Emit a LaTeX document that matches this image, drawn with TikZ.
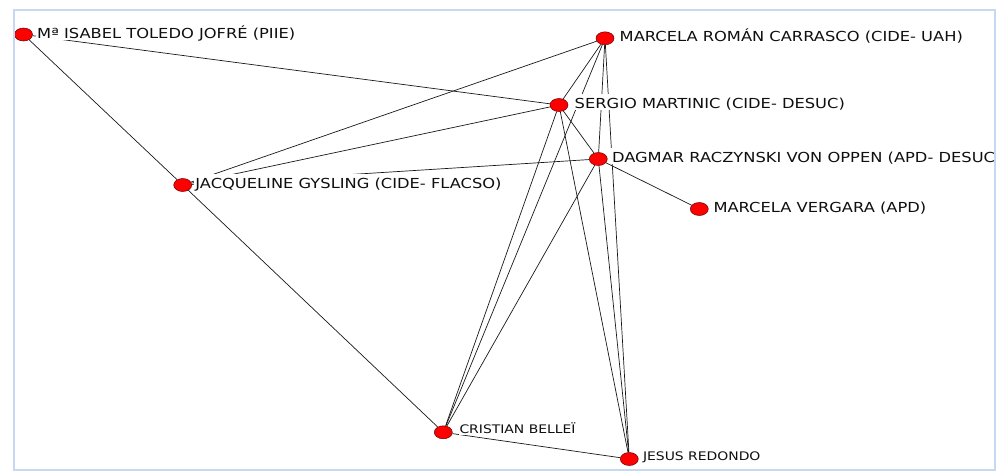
\documentclass[tikz,border=0pt]{standalone}
\usepackage{fontspec}
\setmainfont{DejaVu Sans}[FakeStretch=1.18]
\usetikzlibrary{shapes.geometric,backgrounds}
\definecolor{framecol}{HTML}{C6D9F0}
\definecolor{txtcol}{HTML}{0F0F0F}
\begin{document}
\begin{tikzpicture}[x=1pt,y=-1pt,
  actor/.style={ellipse, fill=red, draw=red!40!black, line width=0.5pt,
    minimum width=18pt, minimum height=13pt, inner sep=0pt},
  tie/.style={draw=black!90, line width=0.7pt},
  namebig/.style={anchor=base west, fill=white, inner xsep=1pt, inner ysep=0pt,
    text height=14.2pt, text depth=1.8pt, text=txtcol,
    font=\fontsize{13.8pt}{15pt}\selectfont},
  namesmall/.style={namebig, text height=11.5pt, text depth=1.5pt,
    font=\fontsize{11.8pt}{13pt}\selectfont}]
\useasboundingbox (0,0) rectangle (997,474);

\node[actor] (isabel)   at (23.5,34.5) {};
\node[actor] (roman)    at (605,38.3) {};
\node[actor] (sergio)   at (559,105) {};
\node[actor] (dagmar)   at (598.3,159) {};
\node[actor] (jacq)     at (182.7,185) {};
\node[actor] (vergara)  at (699.3,209) {};
\node[actor] (cristian) at (443.3,432.3) {};
\node[actor] (jesus)    at (629.3,459) {};

\begin{scope}
\clip (15,11) rectangle (994,469);
\node[namebig] (isabelL) at ([shift={(12.5pt,-3.5pt)}]isabel.center) {Mª ISABEL TOLEDO JOFRÉ (PIIE)};
\node[namebig] (romanL) at ([shift={(13.5pt,-3.5pt)}]roman.center) {MARCELA ROMÁN CARRASCO (CIDE- UAH)};
\node[namebig] (sergioL) at ([shift={(14.5pt,-3.5pt)}]sergio.center) {SERGIO MARTINIC (CIDE- DESUC)};
\node[namebig] (dagmarL) at ([shift={(12.5pt,-3.5pt)}]dagmar.center) {DAGMAR RACZYNSKI VON OPPEN (APD- DESUC};
\node[namebig] (jacqL) at ([shift={(11.5pt,-3.5pt)}]jacq.center) {JACQUELINE GYSLING (CIDE- FLACSO)};
\node[namebig] (vergaraL) at ([shift={(13pt,-3.5pt)}]vergara.center) {MARCELA VERGARA (APD)};
\node[namesmall] (cristianL) at ([shift={(15pt,-1.2pt)}]cristian.center) {CRISTIAN BELLEÏ};
\node[namesmall] (jesusL) at ([shift={(12.5pt,-1.2pt)}]jesus.center) {JESUS REDONDO};
\end{scope}

\begin{scope}[on background layer]
\fill[white] (0,0) rectangle (997,474);
\draw[tie] (isabel) -- (jacq);
\draw[tie] (jacq) -- (cristian);
\draw[tie] (isabel) -- (sergio);
\draw[tie] (jacq) -- (roman);
\draw[tie] (jacq) -- (sergio);
\draw[tie] (jacq) -- (dagmar);
\draw[tie] (roman) -- (sergio);
\draw[tie] (roman) -- (dagmar);
\draw[tie] (roman) -- (cristian);
\draw[tie] (roman) -- (jesus);
\draw[tie] (sergio) -- (dagmar);
\draw[tie] (sergio) -- (cristian);
\draw[tie] (sergio) -- (jesus);
\draw[tie] (dagmar) -- (vergara);
\draw[tie] (dagmar) -- (cristian);
\draw[tie] (dagmar) -- (jesus);
\draw[tie] (cristian) -- (jesus);
\end{scope}

\draw[framecol, line width=2pt] (14,10) rectangle (995,470);
\end{tikzpicture}
\end{document}
